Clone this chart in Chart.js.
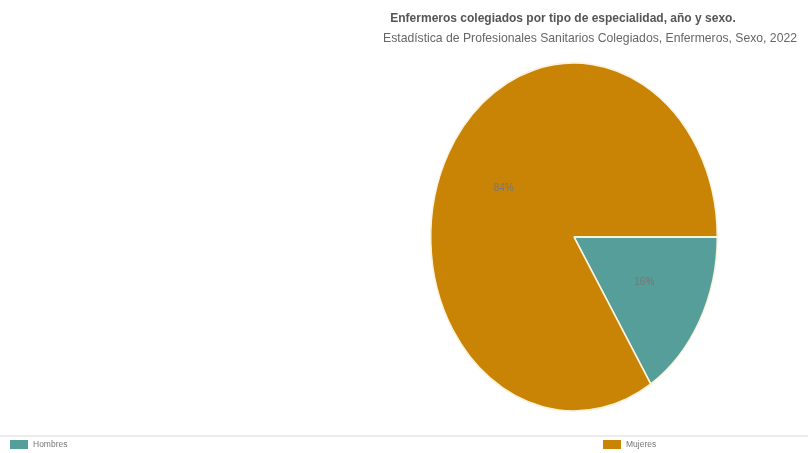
<!DOCTYPE html>
<html>
<head>
<meta charset="utf-8">
<script src="https://cdn.jsdelivr.net/npm/chart.js@4.4.0/dist/chart.umd.min.js"></script>
<style>
  html, body { margin:0; padding:0; background:#fff; }
  #wrap { position:relative; width:808px; height:453px; overflow:hidden; font-family:"Liberation Sans", Arial, sans-serif; }
  #c { position:absolute; left:0; top:0; }
  .t1 { position:absolute; left:563px; top:11px; transform:translateX(-50%); white-space:nowrap; font-weight:bold; font-size:12px; color:#555; }
  .t2 { position:absolute; left:590px; top:31px; transform:translateX(-50%); white-space:nowrap; font-size:12.2px; color:#666; }
  .rule { position:absolute; left:0; top:435px; width:808px; height:2px; background:#ececec; }
  .lg { position:absolute; top:439px; height:12px; font-size:8.5px; color:#777; line-height:10px; white-space:nowrap; }
  .lg span.box { display:inline-block; width:18px; height:9px; vertical-align:middle; margin-right:5px; }
</style>
</head>
<body>
<div id="wrap">
  <canvas id="c" width="808" height="453"></canvas>
  <div class="t1" id="title1"></div>
  <div class="t2" id="title2"></div>
  <div class="rule"></div>
  <div id="legend"></div>
</div>
<script>
const titleText = "Enfermeros colegiados por tipo de especialidad, año y sexo.";
const subtitleText = "Estadística de Profesionales Sanitarios Colegiados, Enfermeros, Sexo, 2022";
const categories = ["Hombres", "Mujeres"];
const values = [16, 84];
const colors = ["#559e99", "#c98406"];
const legendX = [10, 603];

document.getElementById('title1').textContent = titleText;
document.getElementById('title2').textContent = subtitleText;
const lg = document.getElementById('legend');
categories.forEach((c, i) => {
  const d = document.createElement('div');
  d.className = 'lg';
  d.style.left = legendX[i] + 'px';
  d.innerHTML = '<span class="box" style="background:' + colors[i] + '"></span>';
  d.appendChild(document.createTextNode(c));
  lg.appendChild(d);
});

const YSCALE = 175 / 144;
const ellipse = {
  id: 'ellipse',
  beforeDatasetsDraw(chart) {
    const a = chart.chartArea;
    const cx = (a.left + a.right) / 2, cy = (a.top + a.bottom) / 2;
    const ctx = chart.ctx;
    ctx.save();
    ctx.translate(cx, cy);
    ctx.scale(1, YSCALE);
    ctx.translate(-cx, -cy);
  },
  afterDatasetsDraw(chart) {
    const ctx = chart.ctx;
    ctx.restore();
    const meta = chart.getDatasetMeta(0);
    const total = values.reduce((s, v) => s + v, 0);
    ctx.save();
    ctx.font = '10px "Liberation Sans", Arial, sans-serif';
    ctx.fillStyle = '#777';
    ctx.textAlign = 'center';
    ctx.textBaseline = 'middle';
    meta.data.forEach((arc, i) => {
      const p = arc.getProps(['x', 'y', 'startAngle', 'endAngle', 'outerRadius'], true);
      const mid = (p.startAngle + p.endAngle) / 2;
      const r = p.outerRadius * 0.56;
      const x = p.x + Math.cos(mid) * r;
      const y = p.y + Math.sin(mid) * r * YSCALE - 2;
      ctx.fillText(Math.round(values[i] / total * 100) + '%', x, y);
    });
    ctx.restore();
  }
};

new Chart(document.getElementById('c'), {
  type: 'pie',
  data: {
    labels: categories,
    datasets: [{
      data: values,
      backgroundColor: colors,
      borderColor: '#fbf3dc',
      borderWidth: 1.5
    }]
  },
  options: {
    responsive: false,
    animation: false,
    rotation: 90,
    layout: { padding: { left: 430, right: 90, top: 93, bottom: 72 } },
    plugins: { legend: { display: false }, tooltip: { enabled: false }, title: { display: false } }
  },
  plugins: [ellipse]
});
</script>
</body>
</html>
